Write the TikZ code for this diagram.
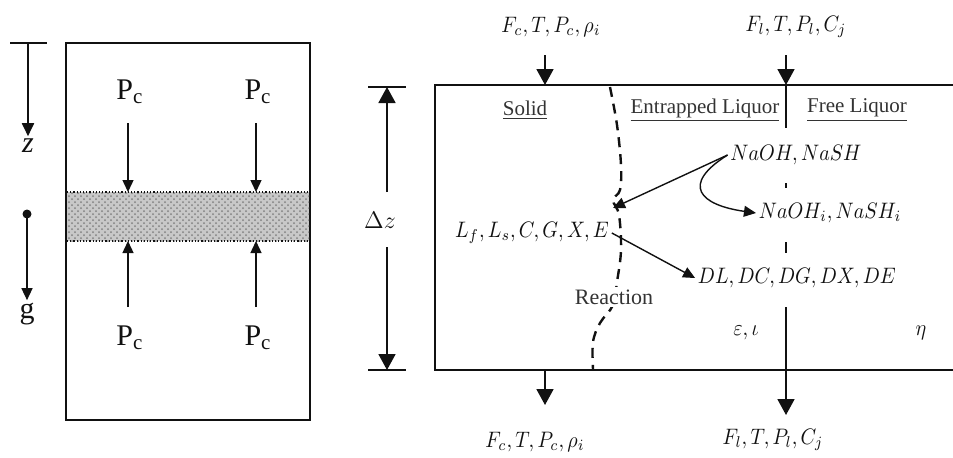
\documentclass[tikz,border=0pt]{standalone}
\usepackage{fontspec}
\setmainfont{Liberation Serif}
\usetikzlibrary{arrows.meta,patterns}
\definecolor{cink}{HTML}{111111}
\definecolor{cgrey}{HTML}{333333}
\definecolor{cband}{HTML}{C8C8C8}

\begin{document}
\begin{tikzpicture}[x=0.5pt, y=-0.5pt, line width=0.9pt, draw=cink, text=cink,
  bigtip/.style={-{Triangle[length=8pt,width=8.5pt]}},
  smalltip/.style={-{Triangle[length=6.5pt,width=6pt]}},
  thintip/.style={-{Triangle[length=6pt,width=5.5pt]}, line width=0.7pt},
  front/.style={dash pattern=on 5pt off 3.5pt, line width=1.2pt},
  mlabel/.style={font=\fontsize{10}{12}\selectfont, inner sep=1pt, yscale=1.12},
  plabel/.style={font=\fontsize{15}{17}\selectfont, inner sep=1pt},
  header/.style={font=\fontsize{10.5}{12}\selectfont, text=cgrey, inner sep=1pt}]
\useasboundingbox (0,0) rectangle (953,457);
%% ------------------------------------------------------------------ left: force balance
\draw (66,43) rectangle (310,420);
\fill[cband] (67,192) rectangle (309,241);
\fill[pattern=crosshatch dots, pattern color=gray] (67,192) rectangle (309,241);
\draw[densely dotted, line width=0.6pt] (67,192) -- (309,192) (67,241) -- (309,241);
% pressure on the slice, above and below
\foreach \x/\n in {128/a,256/b} {
  \node[plabel] (ptop\n) at (\x+2,92) {P\textsubscript{c}};
  \node[plabel] (pbot\n) at (\x+2,338) {P\textsubscript{c}};
  \coordinate (st\n) at (\x,123);
  \coordinate (sb\n) at (\x,307);
  \draw[thintip] (st\n) -- (\x,192);
  \draw[thintip] (sb\n) -- (\x,241);
}
% axis z and gravity
\coordinate (zl) at (10,43);
\coordinate (zr) at (47,43);
\coordinate (z0) at (28,43);
\draw (zl) -- (zr);
\node[plabel] (zlab) at (28,146) {\itshape z};
\draw[smalltip] (z0) -- (zlab.north);
\fill[cink] (27,214) circle (4.5);
\coordinate (g0) at (27,214);
\node[plabel] (glab) at (27,314) {g};
\draw[thintip] (g0) -- (glab.north);
%% ------------------------------------------------------------------ right: slice of height dz
\draw (953,85) -- (435,85) -- (435,370) -- (953,370);
% the height of the slice
\coordinate (dzt) at (387,87);
\coordinate (dzb) at (387,370);
\draw (368,87) -- (406,87) (368,370) -- (406,370);
\node[font=\fontsize{12.5}{14}\selectfont] (dz) at (380,220) {$\Delta z$};
\draw[bigtip] (387,192) -- (dzt);
\draw[bigtip] (387,247) -- (dzb);
% streams in and out
\node[mlabel] (inc) at (551,27) {$F_c, T, P_c, \rho_i$};
\node[mlabel] (inl) at (796,27) {$F_l, T, P_l, C_j$};
\node[mlabel] (outc) at (535,442) {$F_c, T, P_c, \rho_i$};
\node[mlabel] (outl) at (773,440) {$F_l, T, P_l, C_j$};
\coordinate (ci) at (545,55);
\coordinate (li) at (786,55);
\coordinate (ct) at (545,85);
\coordinate (lt) at (786,85);
\draw[bigtip] (ci) -- (ct);
\draw[bigtip] (li) -- (lt);
\draw (786,85) -- (786,128);
\draw (786,183) -- (786,188);
\draw (786,242) -- (786,253);
\draw[bigtip] (786,307) -- (786,415);
\draw[bigtip] (545,370) -- (545,405);
% phases
\node[header] (solid) at (525,110) {\underline{Solid}};
\node[header] (trap) at (705,110) {\underline{Entrapped Liquor}};
\node[header] (free) at (857,110) {\underline{Free Liquor}};
% the reaction front
\draw[front] plot[smooth, tension=0.6] coordinates {(610,87) (617,125) (621,165) (620,190)
  (613,200) (619,215) (621,250) (617,282) (613,305) (600,323) (593,342) (593,369)};
\node[header, fill=white, inner sep=1.5pt, font=\fontsize{11}{12}\selectfont] (reac) at (614,297) {Reaction};
% species
\node[mlabel] (naoh) at (796,155) {$NaOH, NaSH$};
\node[mlabel] (naohi) at (830,213) {$NaOH_i, NaSH_i$};
\node[mlabel] (solids) at (532,233) {$L_f, L_s, C, G, X, E$};
\node[mlabel] (diss) at (797,278) {$DL, DC, DG, DX, DE$};
\node[mlabel] (eps) at (746,333) {$\varepsilon, \iota$};
\node[mlabel] (eta) at (921,333) {$\eta$};
\draw[thintip] (naoh.west) -- (613,208);
\draw[thintip] (naoh.west) .. controls (680,185) and (700,205) .. (naohi.west);
\draw[thintip] (solids.east) -- (diss.west);
\end{tikzpicture}
\end{document}
